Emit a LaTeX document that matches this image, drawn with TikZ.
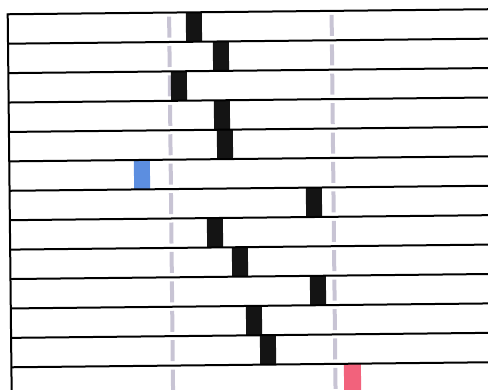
\documentclass[tikz,border=0pt]{standalone}
\usepackage{xcolor}
\usepackage{tikz}
\definecolor{guidegray}{RGB}{200,196,212}
\definecolor{markblue}{RGB}{92,142,224}
\definecolor{markred}{RGB}{242,98,124}
\tikzset{
  rowline/.style={line width=2pt, draw=black},
  guideline/.style={line width=4pt, draw=guidegray, dash pattern=on 21pt off 8.42pt},
  blockbox/.style={fill=black!92},
  bluebox/.style={fill=markblue},
  redbox/.style={fill=markred}
}

\begin{document}
\begin{tikzpicture}[x=1pt,y=-1pt]
  \useasboundingbox (0,0) rectangle (488,390);
  \clip (0,0) rectangle (488,390);
  \begin{scope}[rotate around={0.6:(244,195)}]
    \foreach \gx in {171,333.5}
      \draw[guideline] (\gx,15.8) -- (\gx,410);

    \foreach \bx/\row in {187.7/1, 214.4/2, 172.1/3, 214.8/4, 217.5/5, 305.9/7,
                          206.6/8, 231.3/9, 309/10, 244.7/11, 258.4/12}
      \fill[blockbox] (\bx,{11.8+(\row-1)*29.42}) rectangle ++(16,29.42);
    \fill[bluebox] (134.2,{11.8+5*29.42}) rectangle ++(16,29.42);
    \fill[redbox] (342.1,{11.8+12*29.42}) rectangle ++(17,40);

    \foreach \k in {0,...,12}
      \draw[rowline] (9.6,{11.8+\k*29.42}) -- (500,{11.8+\k*29.42});
    \draw[rowline] (9.6,10.8) -- (9.6,410);
  \end{scope}
\end{tikzpicture}
\end{document}
